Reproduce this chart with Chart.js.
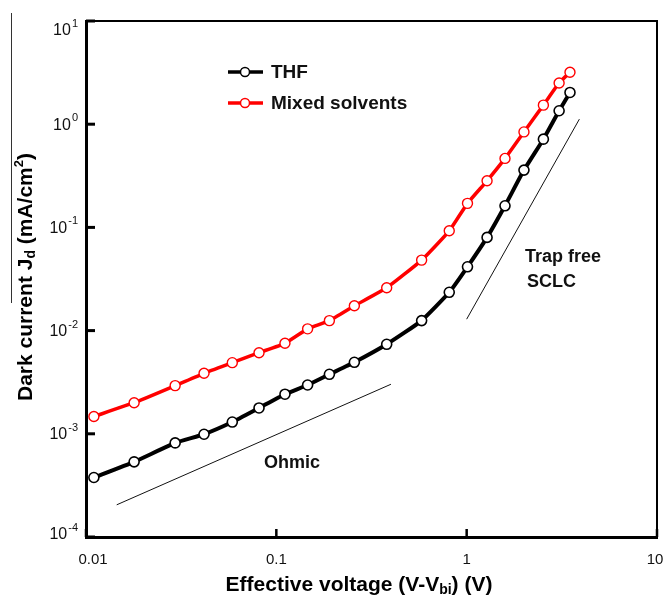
<!DOCTYPE html>
<html>
<head>
<meta charset="utf-8">
<script src="https://cdn.jsdelivr.net/npm/chart.js@4.4.1/dist/chart.umd.min.js"></script>
<style>
  html, body { margin: 0; padding: 0; background: #fff; }
  #wrap { width: 664px; height: 598px; }
</style>
</head>
<body>
<div id="wrap"><canvas id="darkCurrentChart" width="664" height="598"></canvas></div>
<script>
// effective voltage (V), shared by both samples
const voltages = [0.011, 0.0179, 0.0294, 0.0417, 0.0587, 0.0811, 0.111, 0.146, 0.19, 0.257,
  0.38, 0.58, 0.81, 1.01, 1.28, 1.59, 2.0, 2.53, 3.06, 3.49];
// dark current (mA/cm2)
const thfCurrent = [3.77e-4, 5.35e-4, 8.16e-4, 9.9e-4, 1.3e-3, 1.78e-3, 2.42e-3, 2.97e-3, 3.77e-3, 4.93e-3,
  7.37e-3, 1.25e-2, 2.35e-2, 4.15e-2, 8.0e-2, 0.162, 0.359, 0.716, 1.35, 2.03];
const mixedCurrent = [1.47e-3, 2.0e-3, 2.93e-3, 3.86e-3, 4.89e-3, 6.11e-3, 7.53e-3, 1.04e-2, 1.25e-2, 1.74e-2,
  2.6e-2, 4.82e-2, 9.27e-2, 0.171, 0.283, 0.466, 0.842, 1.53, 2.51, 3.19];

// guide lines
const ohmicX = [0.0145, 0.4];
const ohmicY = [2.05e-4, 3.02e-3];
const sclcX = [1.0, 3.91];
const sclcY = [1.29e-2, 1.12];

const xTicks = [0.01, 0.1, 1, 10];
const xTickLabels = ["0.01", "0.1", "1", "10"];
const yTicks = [1e-4, 1e-3, 1e-2, 1e-1, 1, 10];
const yTickExponents = ["-4", "-3", "-2", "-1", "0", "1"];

const FONT = "'Liberation Sans', Arial, sans-serif";

const toPoints = (xs, ys) => xs.map((x, i) => ({ x, y: ys[i] }));

// draws text pieces one after another, with sub/superscripts
function drawParts(ctx, parts, x, y) {
  let width = 0;
  parts.forEach((p) => {
    ctx.font = p.font;
    width += ctx.measureText(p.text).width;
  });
  let cx = x - width / 2;
  parts.forEach((p) => {
    ctx.font = p.font;
    ctx.fillText(p.text, cx, y + (p.dy || 0));
    cx += ctx.measureText(p.text).width;
  });
}

const framePlugin = {
  id: "frame",
  afterDraw(chart) {
    const { ctx, chartArea } = chart;
    const { left, right, top, bottom } = chartArea;
    const xScale = chart.scales.x;
    const yScale = chart.scales.y;

    ctx.save();
    ctx.strokeStyle = "#000";
    ctx.fillStyle = "#000";

    // top and right sides of the box
    ctx.lineWidth = 2;
    ctx.beginPath();
    ctx.moveTo(left, top);
    ctx.lineTo(right, top);
    ctx.lineTo(right, bottom);
    ctx.stroke();

    // inward ticks
    ctx.lineWidth = 3;
    yTicks.forEach((v) => {
      const py = yScale.getPixelForValue(v);
      ctx.beginPath();
      ctx.moveTo(left, py);
      ctx.lineTo(left + 9, py);
      ctx.stroke();
    });
    ctx.lineWidth = 2.5;
    xTicks.forEach((v) => {
      const px = xScale.getPixelForValue(v);
      ctx.beginPath();
      ctx.moveTo(px, bottom);
      ctx.lineTo(px, bottom - 8);
      ctx.stroke();
    });

    // y tick labels 10^n
    ctx.fillStyle = "#111";
    ctx.textBaseline = "middle";
    ctx.textAlign = "left";
    yTicks.forEach((v, i) => {
      const py = Math.min(Math.max(yScale.getPixelForValue(v), 30), 534);
      ctx.font = `11px ${FONT}`;
      const expW = ctx.measureText(yTickExponents[i]).width;
      ctx.font = `16px ${FONT}`;
      const baseW = ctx.measureText("10").width;
      const xEnd = left - 8;
      ctx.fillText("10", xEnd - expW - baseW - 1, py + 1);
      ctx.font = `11px ${FONT}`;
      ctx.fillText(yTickExponents[i], xEnd - expW, py - 6);
    });

    // x tick labels
    ctx.font = `15px ${FONT}`;
    ctx.textAlign = "center";
    xTicks.forEach((v, i) => {
      const px = Math.min(Math.max(xScale.getPixelForValue(v), 93), 655);
      ctx.fillText(xTickLabels[i], px, 560);
    });

    // axis titles
    ctx.fillStyle = "#000";
    ctx.textAlign = "left";
    ctx.textBaseline = "middle";
    drawParts(ctx, [
      { text: "Effective voltage (V-V", font: `bold 21px ${FONT}` },
      { text: "bi", font: `bold 14px ${FONT}`, dy: 5 },
      { text: ") (V)", font: `bold 21px ${FONT}` },
    ], 359, 585);

    ctx.save();
    ctx.translate(26, 277);
    ctx.rotate(-Math.PI / 2);
    drawParts(ctx, [
      { text: "Dark current J", font: `bold 21px ${FONT}` },
      { text: "d", font: `bold 14px ${FONT}`, dy: 5 },
      { text: " (mA/cm", font: `bold 21px ${FONT}` },
      { text: "2", font: `bold 13px ${FONT}`, dy: -7 },
      { text: ")", font: `bold 21px ${FONT}` },
    ], 0, 0);
    ctx.restore();

    // thin stray line at the far left
    ctx.lineWidth = 1;
    ctx.strokeStyle = "#333";
    ctx.beginPath();
    ctx.moveTo(11.5, 13);
    ctx.lineTo(11.5, 303);
    ctx.stroke();

    // legend
    const legendItems = [
      { label: "THF", color: "#000", y: 72, width: 3.5 },
      { label: "Mixed solvents", color: "#ff0000", y: 103, width: 3.5 },
    ];
    legendItems.forEach((item) => {
      ctx.strokeStyle = item.color;
      ctx.lineWidth = item.width;
      ctx.beginPath();
      ctx.moveTo(228, item.y);
      ctx.lineTo(263, item.y);
      ctx.stroke();
      ctx.fillStyle = "#fff";
      ctx.lineWidth = 1.5;
      ctx.beginPath();
      ctx.arc(245, item.y, 4.5, 0, Math.PI * 2);
      ctx.fill();
      ctx.stroke();
      ctx.fillStyle = "#111";
      ctx.font = `bold 19px ${FONT}`;
      ctx.textAlign = "left";
      ctx.fillText(item.label, 271, item.y + 1);
    });

    // region labels
    ctx.fillStyle = "#111";
    ctx.font = `bold 18px ${FONT}`;
    ctx.textAlign = "center";
    ctx.fillText("Ohmic", 292, 463);
    ctx.textAlign = "left";
    ctx.fillText("Trap free", 525, 257);
    ctx.fillText("SCLC", 527, 282);

    ctx.restore();
  },
};

const dataConfig = {
  datasets: [
    {
      label: "THF",
      data: toPoints(voltages, thfCurrent),
      borderColor: "#000",
      borderWidth: 4,
      pointRadius: 5,
      pointBackgroundColor: "#fff",
      pointBorderColor: "#000",
      pointBorderWidth: 1.6,
      tension: 0.15,
    },
    {
      label: "Mixed solvents",
      data: toPoints(voltages, mixedCurrent),
      borderColor: "#ff0000",
      borderWidth: 3.5,
      pointRadius: 5,
      pointBackgroundColor: "#fff",
      pointBorderColor: "#ff0000",
      pointBorderWidth: 1.4,
      tension: 0.15,
    },
    {
      label: "Ohmic",
      data: toPoints(ohmicX, ohmicY),
      borderColor: "#111",
      borderWidth: 1,
      pointRadius: 0,
    },
    {
      label: "Trap free SCLC",
      data: toPoints(sclcX, sclcY),
      borderColor: "#111",
      borderWidth: 1,
      pointRadius: 0,
    },
  ],
};

const config = {
  type: "line",
  data: dataConfig,
  options: {
    responsive: false,
    animation: false,
    devicePixelRatio: 1,
    layout: { padding: { top: 21, right: 7, left: 0, bottom: 0 } },
    plugins: {
      legend: { display: false },
      tooltip: { enabled: false },
    },
    scales: {
      x: {
        type: "logarithmic",
        min: 0.01,
        max: 10,
        afterBuildTicks: (scale) => {
          scale.ticks = xTicks.map((value) => ({ value }));
        },
        afterFit: (scale) => {
          scale.height = 61;
        },
        ticks: { display: false },
        grid: { display: false, drawTicks: false },
        border: { display: true, width: 3, color: "#000" },
      },
      y: {
        type: "logarithmic",
        min: 1e-4,
        max: 10,
        afterBuildTicks: (scale) => {
          scale.ticks = yTicks.map((value) => ({ value }));
        },
        afterFit: (scale) => {
          scale.width = 86;
        },
        ticks: { display: false },
        grid: { display: false, drawTicks: false },
        border: { display: true, width: 3, color: "#000" },
      },
    },
  },
  plugins: [framePlugin],
};

const darkCurrentChart = document.getElementById("darkCurrentChart");

new Chart(darkCurrentChart, config);
</script>
</body>
</html>
